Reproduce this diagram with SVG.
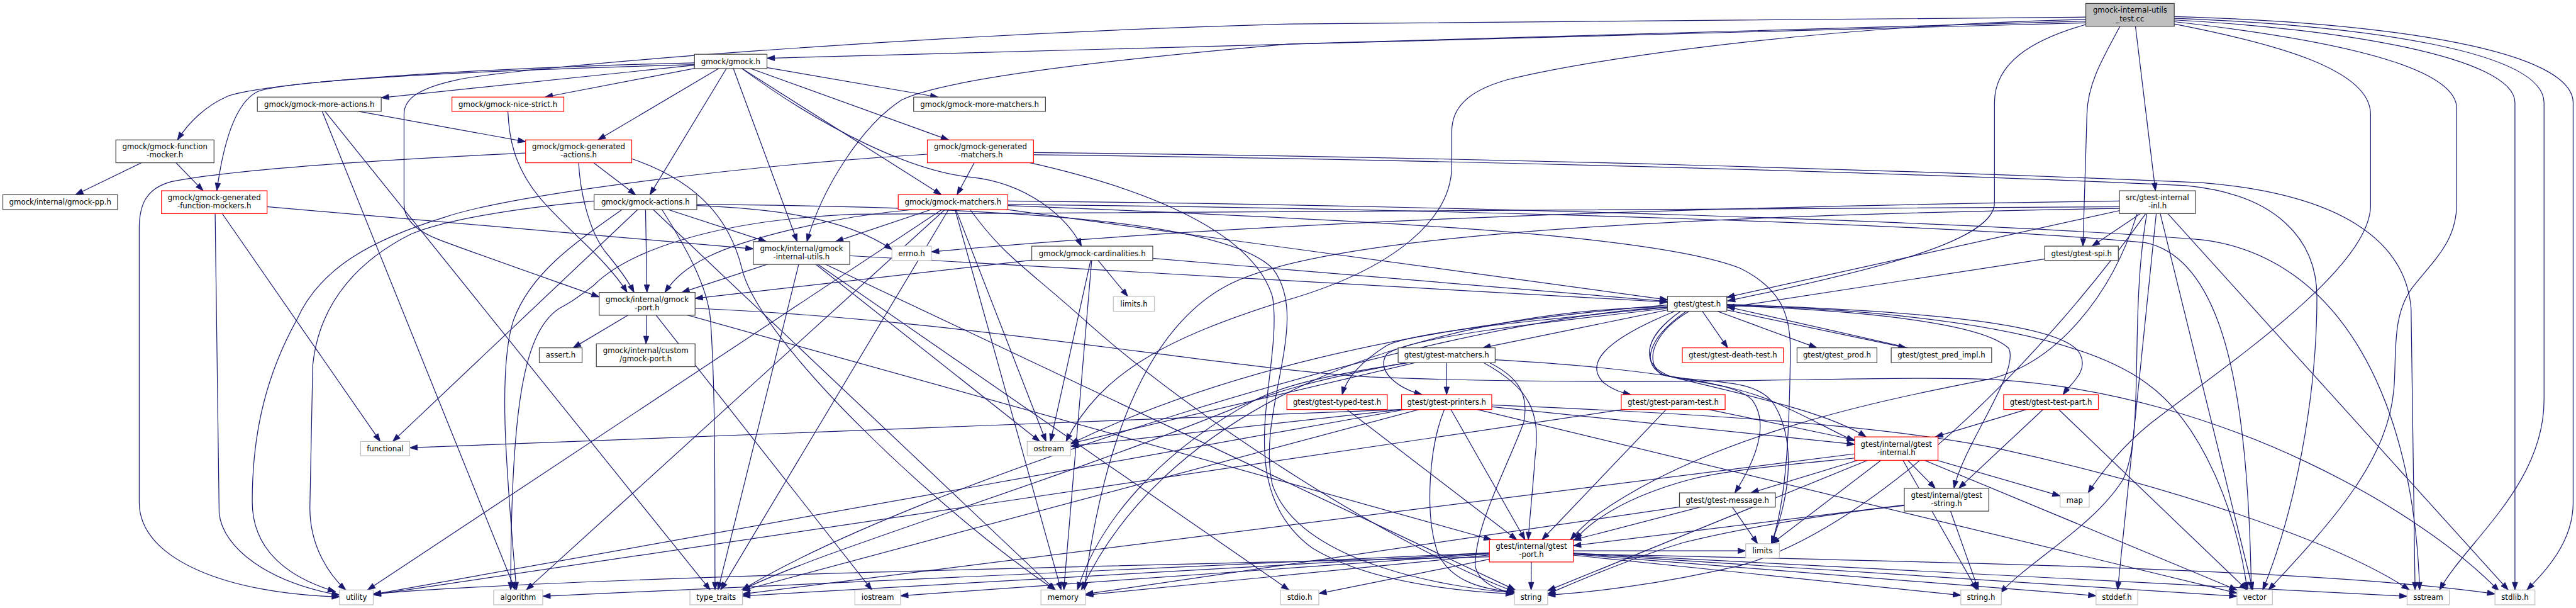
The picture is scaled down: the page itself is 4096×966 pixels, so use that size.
<svg xmlns="http://www.w3.org/2000/svg" width="4096" height="966" viewBox="0 0 4096 966">
<defs>
<style>
.e{fill:none;stroke:#191970;stroke-width:1.33;marker-end:url(#ah)}
rect{stroke-width:1.33}
rect.k{fill:#fff;stroke:#404040}
rect.r{fill:#fff;stroke:#ff0000}
rect.g{fill:#fff;stroke:#bfbfbf}
rect.root{fill:#bfbfbf;stroke:#404040}
text{font-family:'DejaVu Sans','Liberation Sans',sans-serif;font-size:13px;text-anchor:middle;fill:#000}
</style>
<marker id="ah" markerUnits="userSpaceOnUse" markerWidth="14" markerHeight="10" refX="13.3" refY="4.65" orient="auto" overflow="visible"><path d="M0,0 L13.3,4.65 L0,9.3 z" fill="#191970" stroke="#191970" stroke-width="1"/></marker>
</defs>
<rect width="4096" height="966" fill="#fff"/>
<g transform="scale(0.9074)">
<g id="connectors">
<path class="e" d="M1280.5,107.5 L668,171.2"/>
<path class="e" d="M1280.5,107.5 L955.1,170"/>
<path class="e" d="M1280.5,107.5 L1643.8,170"/>
<path class="e" d="M1280.5,107.5 L1047.8,245"/>
<path class="e" d="M1280.5,107.5 L1138.9,341"/>
<path class="e" d="M1280.5,107.5 L1397,423"/>
<path class="e" d="M1280.5,107.5 L1662.4,245"/>
<path class="e" d="M1280.5,107.5 L1649.5,341"/>
<path class="e" d="M1217,110 C800,120 470,145 400,168 C360,185 330,215 311,245"/>
<path class="e" d="M1217,113 C900,122 520,137 452,160 C410,180 390,260 380,334"/>
<path class="e" d="M1300,120 C1450,230 1600,300 1700,310 C1800,320 1870,380 1895,431"/>
<path class="e" d="M559.5,182.5 L921,248.1"/>
<path class="e" d="M559.5,182.5 L902.8,1033"/>
<path class="e" d="M559.5,182.5 L1244.5,1033"/>
<path class="e" d="M890,195 C892,240 900,290 944,344 C990,400 1060,450 1099,512"/>
<path class="e" d="M289,265 L356,334"/>
<path class="e" d="M289,265 L132.3,341"/>
<path class="e" d="M1107,278 C1230,320 1280,390 1300,470 C1330,600 1650,900 1849,1033"/>
<path class="e" d="M1014,265 L1113.9,341"/>
<path class="e" d="M1014,285 C1016,330 1030,400 1060,440 C1085,470 1100,490 1111,512"/>
<path class="e" d="M921,268 C700,278 420,295 300,318 C255,330 244,360 244,400 L244,880 C244,980 400,1040 595,1045"/>
<path class="e" d="M375.5,354 L666.3,773"/>
<path class="e" d="M377,374 L384,898 C390,960 470,1020 595,1042"/>
<path class="e" d="M375.5,354 L1320,435.7"/>
<path class="e" d="M1718,265 L1677,341"/>
<path class="e" d="M1811,267 C2600,275 3400,300 3860,320 C4100,340 4215,420 4225,540 L4232,1033"/>
<path class="e" d="M1805,285 C2050,340 2200,420 2230,520 C2250,650 2150,850 2300,960 C2400,1020 2550,1035 2652,1040"/>
<path class="e" d="M1811,271 C2600,280 3400,305 3830,325 C3990,340 4060,420 4060,520 C4060,700 4020,900 3965,1033"/>
<path class="e" d="M1625,270 C1300,290 900,340 780,380 C650,420 560,470 520,560 C470,650 442,750 442,878 C442,960 500,1010 588,1036"/>
<path class="e" d="M1670,354 L922.3,1033"/>
<path class="e" d="M1766,360 C2400,385 2900,410 3050,470 C3130,510 3140,560 3137,640 C3135,760 3130,880 3104,952"/>
<path class="e" d="M1670,354 L1859.4,1033"/>
<path class="e" d="M1670,354 L1833.1,773"/>
<path class="e" d="M1766,352 C2600,360 3500,390 3860,420 C4100,450 4230,700 4240,1033"/>
<path class="e" d="M1700,367 C1760,450 1800,470 1900,560 C2100,740 2450,960 2654,1036"/>
<path class="e" d="M1670,354 L1262.8,1033"/>
<path class="e" d="M1670,354 L644.1,1033"/>
<path class="e" d="M1766,358 C2600,366 3450,395 3760,425 C3900,455 3940,700 3945,1033"/>
<path class="e" d="M1670,354 L1464.2,423"/>
<path class="e" d="M1600,367 C1450,380 1300,420 1240,450 C1200,470 1180,490 1165,512"/>
<path class="e" d="M1670,354 L2922,524.9"/>
<path class="e" d="M1221,360 C1350,365 1480,380 1563,437"/>
<path class="e" d="M1090,367 C1000,430 930,480 900,560 C870,650 890,850 905,1033"/>
<path class="e" d="M1131,354 L688.2,773"/>
<path class="e" d="M1131,354 L1849.3,1033"/>
<path class="e" d="M1221,358 C1800,362 2150,390 2230,470 C2300,560 2200,720 2230,850 C2280,990 2550,1030 2654,1038"/>
<path class="e" d="M1160,367 C1200,430 1240,500 1245,560 C1255,700 1252,900 1253,1033"/>
<path class="e" d="M1041,352 C900,365 780,385 720,410 C640,450 560,520 548,640 L543,889 C543,960 580,1010 606,1033"/>
<path class="e" d="M1131,354 L1343,423"/>
<path class="e" d="M1131,354 L1133.7,512"/>
<path class="e" d="M1914,443.5 L1976.3,519"/>
<path class="e" d="M1914,443.5 L1864.1,1033"/>
<path class="e" d="M1914,443.5 L1840.8,773"/>
<path class="e" d="M1914,443.5 L1218,522.5"/>
<path class="e" d="M1914,443.5 L2922,527.7"/>
<path class="e" d="M1404.5,443 L2258.7,1033"/>
<path class="e" d="M1404.5,443 L1822.2,773"/>
<path class="e" d="M1404.5,443 L2655.4,1033"/>
<path class="e" d="M1404.5,443 L1258.2,1033"/>
<path class="e" d="M1404.5,443 L1194.8,512"/>
<path class="e" d="M1404.5,443 L2922,529"/>
<path class="e" d="M1134,532 L1004.4,609"/>
<path class="e" d="M1134,532 L1132,602"/>
<path class="e" d="M1218,540 C1700,560 2100,640 2400,660 C2900,680 3300,655 3500,665 C3900,690 4250,900 4379,1035"/>
<path class="e" d="M1134,532 L1527.8,1033"/>
<path class="e" d="M1134,532 L2613.6,945"/>
<path class="e" d="M2974,532 L3027.5,609"/>
<path class="e" d="M2974,532 L3183.6,609"/>
<path class="e" d="M2974,532 L3340.2,609"/>
<path class="e" d="M2974,532 L2598.4,609"/>
<path class="e" d="M2922,538 C2700,560 2480,580 2430,605 C2390,630 2360,660 2352,691"/>
<path class="e" d="M2922,540 C2700,565 2470,590 2430,620 C2410,650 2450,680 2492,691"/>
<path class="e" d="M2935,545 C2800,600 2780,640 2810,670 C2830,685 2845,688 2858,691"/>
<path class="e" d="M3026,533 C3400,545 3620,570 3645,620 C3660,650 3630,670 3615,691"/>
<path class="e" d="M2945,545 C2880,590 2870,640 2930,660 C3050,690 3200,720 3270,765"/>
<path class="e" d="M3026,535 C3300,545 3480,570 3520,610 C3540,650 3440,780 3424,855"/>
<path class="e" d="M2960,545 C2900,580 2880,630 2910,655 C2960,670 3040,670 3070,700 C3100,740 3080,800 3040,863"/>
<path class="e" d="M2955,545 C2890,590 2870,640 2920,658 C2990,672 3080,660 3110,710 C3145,770 3140,860 3104,952"/>
<path class="e" d="M2922,537 C2500,545 2050,700 1895,1033"/>
<path class="e" d="M2922,534 C2600,560 2200,620 1876,777"/>
<path class="e" d="M2922,538 C2500,560 1600,850 1300,1033"/>
<path class="e" d="M3026,534 C3400,545 3650,590 3760,670 C3860,740 3920,900 3938,1033"/>
<path class="e" d="M3402,622 L3026,537"/>
<path class="e" d="M2470,635 C2300,660 2240,680 2200,700 C2050,780 1930,900 1888,1033"/>
<path class="e" d="M2535,622 L1876,776.6"/>
<path class="e" d="M2610,635 C2660,660 2680,690 2670,740 C2640,820 2585,920 2585,990 C2590,1022 2630,1035 2654,1038"/>
<path class="e" d="M2465,635 C2300,665 2220,690 2150,720 C1800,860 1450,960 1300,1033"/>
<path class="e" d="M2535,622 L2535,691"/>
<path class="e" d="M2620,630 C2800,640 3000,660 3100,700 C3170,730 3220,760 3250,772"/>
<path class="e" d="M2600,635 C2680,680 2700,720 2690,800 C2685,870 2680,910 2678,945"/>
<path class="e" d="M3027,875.5 L3079.9,952"/>
<path class="e" d="M3027,875.5 L1902,1040.3"/>
<path class="e" d="M3027,875.5 L2757,945.5"/>
<path class="e" d="M2932,704 L654,1041.6"/>
<path class="e" d="M2932,704 L3250,770.3"/>
<path class="e" d="M2932,704 L2702.1,945"/>
<path class="e" d="M2456,717 L718,784"/>
<path class="e" d="M2456,717 L1876,781.3"/>
<path class="e" d="M2614,709 C3000,725 3300,745 3500,785 C3800,850 4100,950 4222,1033"/>
<path class="e" d="M2531,717 C2505,780 2495,900 2520,970 C2545,1020 2600,1032 2654,1037"/>
<path class="e" d="M2535,704 L1301,1033.7"/>
<path class="e" d="M2535,704 L654,1040.7"/>
<path class="e" d="M2535,704 L3920,1038.5"/>
<path class="e" d="M2535,704 L3250,778"/>
<path class="e" d="M2535,704 L2672.4,945"/>
<path class="e" d="M3594,704 L3937.4,1033"/>
<path class="e" d="M3594,704 L3391.2,765"/>
<path class="e" d="M3594,704 L3432.4,855"/>
<path class="e" d="M2343,704 L2658,945"/>
<path class="e" d="M3250,802 C3150,812 3030,822 2960,840 C2850,870 2790,910 2760,945"/>
<path class="e" d="M3323,785.5 L3464.1,1033"/>
<path class="e" d="M3323,785.5 L3104.9,952"/>
<path class="e" d="M3323,785.5 L3610,868.2"/>
<path class="e" d="M3323,785.5 L2712,1034.2"/>
<path class="e" d="M3323,785.5 L1301,1040.2"/>
<path class="e" d="M3323,785.5 L3920,1033.1"/>
<path class="e" d="M3323,785.5 L3068.1,863"/>
<path class="e" d="M3323,785.5 L3391.3,855"/>
<path class="e" d="M3411,875 L3466.9,1033"/>
<path class="e" d="M3337,885 C3200,900 3050,925 2950,950 C2850,980 2760,1020 2712,1040"/>
<path class="e" d="M3411,875 L2757,955.5"/>
<path class="e" d="M2610,975 C2000,990 1000,1010 654,1040"/>
<path class="e" d="M2683.5,964.5 L951,1044"/>
<path class="e" d="M2683.5,964.5 L1301,1043.4"/>
<path class="e" d="M2683.5,964.5 L1578,1043.2"/>
<path class="e" d="M2683.5,964.5 L1902,1042.1"/>
<path class="e" d="M2683.5,964.5 L2311,1039.3"/>
<path class="e" d="M2683.5,964.5 L2683,1033"/>
<path class="e" d="M2683.5,964.5 L3436,1042.3"/>
<path class="e" d="M2683.5,964.5 L3673,1043.1"/>
<path class="e" d="M2683.5,964.5 L3920,1044"/>
<path class="e" d="M2683.5,964.5 L4218,1044.1"/>
<path class="e" d="M2757,970 C3500,985 4100,1000 4372,1040"/>
<path class="e" d="M2683.5,964.5 L3059,964.5"/>
<path class="e" d="M3714,352 Q2400,370 1632,441"/>
<path class="e" d="M3780.5,354 L3710.8,1033"/>
<path class="e" d="M3780.5,354 L4395.2,1033"/>
<path class="e" d="M3762,374 C3730,560 3760,760 3720,840 C3670,920 3560,980 3505,1038"/>
<path class="e" d="M3714,362 C2500,365 1700,368 1500,375 C1250,385 1100,440 1040,500 C1000,530 990,535 980,540 C920,580 895,700 895,1033"/>
<path class="e" d="M3714,365 C2800,380 2300,420 2150,500 C2000,580 1930,800 1900,1033"/>
<path class="e" d="M3760,374 C3600,600 3300,920 3050,990 C2900,1025 2780,1038 2712,1042"/>
<path class="e" d="M3780.5,354 L3947.8,1033"/>
<path class="e" d="M3745,374 C3700,520 3600,640 3480,665 C3300,700 3000,760 2800,900 C2780,915 2765,930 2752,945"/>
<path class="e" d="M3780.5,354 L3026,520.5"/>
<path class="e" d="M3780.5,354 L3666.1,431"/>
<path class="e" d="M3647.5,443.5 L3026,538.8"/>
<path class="e" d="M3655,43 C3560,70 3495,110 3495,180 L3495,355 C3495,420 3300,470 3027,527"/>
<path class="e" d="M3715,46 C3680,110 3658,150 3657,200 L3650,431"/>
<path class="e" d="M3742,46 L3777,334"/>
<path class="e" d="M3655,40 L1344,102"/>
<path class="e" d="M3655,37 L2260,77 C1900,108 1650,140 1580,175 C1510,220 1440,330 1414,423"/>
<path class="e" d="M3655,30 L2260,42 C1600,60 900,118 800,140 C730,155 708,175 708,200 L708,358 C708,385 730,405 770,420 C850,450 980,495 1050,520"/>
<path class="e" d="M3655,34 C3200,45 2800,100 2640,140 C2570,160 2544,190 2544,230 L2544,290 C2544,380 2450,470 2250,527 C2050,590 1930,650 1868,773"/>
<path class="e" d="M3810,42 C3980,75 4154,120 4154,200 L4154,360 C4154,470 3900,640 3770,740 C3720,780 3680,830 3659,863"/>
<path class="e" d="M3810,38 C4050,65 4305,110 4305,190 L4305,355 C4305,420 4270,450 4230,500 C4190,550 4200,620 4195,680 C4185,800 4100,900 3975,1033"/>
<path class="e" d="M3810,35 C4100,50 4407,100 4407,180 L4407,1033"/>
<path class="e" d="M3810,32 C4150,45 4458,90 4458,180 L4458,700 C4458,850 4320,950 4275,1033"/>
<path class="e" d="M3810,29 C4200,40 4509,90 4509,180 L4509,880 C4509,950 4460,1000 4428,1033"/>
</g>
<g id="nodes">
<g id="n-test"><rect class="root" x="3655" y="6" width="155" height="40"/><text x="3732.5" y="22.5">gmock-internal-utils</text><text x="3732.5" y="37">_test.cc</text></g>
<g id="n-gmock"><rect class="k" x="1217" y="95" width="127" height="25"/><text x="1280.5" y="112">gmock/gmock.h</text></g>
<g id="n-more-actions"><rect class="k" x="451" y="170" width="217" height="25"/><text x="559.5" y="187">gmock/gmock-more-actions.h</text></g>
<g id="n-nice-strict"><rect class="r" x="792" y="170" width="196" height="25"/><text x="890" y="187">gmock/gmock-nice-strict.h</text></g>
<g id="n-more-matchers"><rect class="k" x="1601" y="170" width="231" height="25"/><text x="1716.5" y="187">gmock/gmock-more-matchers.h</text></g>
<g id="n-function-mocker"><rect class="k" x="203" y="245" width="172" height="40"/><text x="289" y="261.5">gmock/gmock-function</text><text x="289" y="276">-mocker.h</text></g>
<g id="n-gen-actions"><rect class="r" x="921" y="245" width="186" height="40"/><text x="1014" y="261.5">gmock/gmock-generated</text><text x="1014" y="276">-actions.h</text></g>
<g id="n-gen-matchers"><rect class="r" x="1625" y="245" width="186" height="40"/><text x="1718" y="261.5">gmock/gmock-generated</text><text x="1718" y="276">-matchers.h</text></g>
<g id="n-gmock-pp"><rect class="k" x="5" y="341" width="201" height="26"/><text x="105.5" y="358.5">gmock/internal/gmock-pp.h</text></g>
<g id="n-gen-fmockers"><rect class="r" x="283" y="334" width="185" height="40"/><text x="375.5" y="350.5">gmock/gmock-generated</text><text x="375.5" y="365">-function-mockers.h</text></g>
<g id="n-actions"><rect class="k" x="1041" y="341" width="180" height="26"/><text x="1131" y="358.5">gmock/gmock-actions.h</text></g>
<g id="n-matchers"><rect class="r" x="1574" y="341" width="192" height="26"/><text x="1670" y="358.5">gmock/gmock-matchers.h</text></g>
<g id="n-inl"><rect class="k" x="3714" y="334" width="133" height="40"/><text x="3780.5" y="350.5">src/gtest-internal</text><text x="3780.5" y="365">-inl.h</text></g>
<g id="n-utils"><rect class="k" x="1320" y="423" width="169" height="40"/><text x="1404.5" y="439.5">gmock/internal/gmock</text><text x="1404.5" y="454">-internal-utils.h</text></g>
<g id="n-errno"><rect class="g" x="1563" y="431" width="69" height="25"/><text x="1597.5" y="448">errno.h</text></g>
<g id="n-cardinalities"><rect class="k" x="1808" y="431" width="212" height="25"/><text x="1914" y="448">gmock/gmock-cardinalities.h</text></g>
<g id="n-spi"><rect class="k" x="3583" y="431" width="129" height="25"/><text x="3647.5" y="448">gtest/gtest-spi.h</text></g>
<g id="n-gmock-port"><rect class="k" x="1050" y="512" width="168" height="40"/><text x="1134" y="528.5">gmock/internal/gmock</text><text x="1134" y="543">-port.h</text></g>
<g id="n-limits-h"><rect class="g" x="1951" y="519" width="72" height="26"/><text x="1987" y="536.5">limits.h</text></g>
<g id="n-gtest"><rect class="k" x="2922" y="519" width="104" height="26"/><text x="2974" y="536.5">gtest/gtest.h</text></g>
<g id="n-assert"><rect class="k" x="945" y="609" width="75" height="26"/><text x="982.5" y="626.5">assert.h</text></g>
<g id="n-custom"><rect class="k" x="1045" y="602" width="173" height="40"/><text x="1131.5" y="618.5">gmock/internal/custom</text><text x="1131.5" y="633">/gmock-port.h</text></g>
<g id="n-gtest-matchers"><rect class="k" x="2450" y="609" width="170" height="26"/><text x="2535" y="626.5">gtest/gtest-matchers.h</text></g>
<g id="n-death"><rect class="r" x="2948" y="609" width="177" height="26"/><text x="3036.5" y="626.5">gtest/gtest-death-test.h</text></g>
<g id="n-prod"><rect class="k" x="3149" y="609" width="140" height="26"/><text x="3219" y="626.5">gtest/gtest_prod.h</text></g>
<g id="n-pred"><rect class="k" x="3314" y="609" width="176" height="26"/><text x="3402" y="626.5">gtest/gtest_pred_impl.h</text></g>
<g id="n-typed"><rect class="r" x="2255" y="691" width="176" height="26"/><text x="2343" y="708.5">gtest/gtest-typed-test.h</text></g>
<g id="n-printers"><rect class="r" x="2456" y="691" width="158" height="26"/><text x="2535" y="708.5">gtest/gtest-printers.h</text></g>
<g id="n-param"><rect class="r" x="2841" y="691" width="182" height="26"/><text x="2932" y="708.5">gtest/gtest-param-test.h</text></g>
<g id="n-testpart"><rect class="r" x="3511" y="691" width="166" height="26"/><text x="3594" y="708.5">gtest/gtest-test-part.h</text></g>
<g id="n-functional"><rect class="g" x="632" y="773" width="86" height="25"/><text x="675" y="790">functional</text></g>
<g id="n-ostream"><rect class="g" x="1800" y="773" width="76" height="25"/><text x="1838" y="790">ostream</text></g>
<g id="n-internal"><rect class="r" x="3250" y="765" width="146" height="41"/><text x="3323" y="782">gtest/internal/gtest</text><text x="3323" y="796.5">-internal.h</text></g>
<g id="n-message"><rect class="k" x="2943" y="863" width="168" height="25"/><text x="3027" y="880">gtest/gtest-message.h</text></g>
<g id="n-gstring"><rect class="k" x="3337" y="855" width="148" height="40"/><text x="3411" y="871.5">gtest/internal/gtest</text><text x="3411" y="886">-string.h</text></g>
<g id="n-map"><rect class="g" x="3610" y="863" width="51" height="25"/><text x="3635.5" y="880">map</text></g>
<g id="n-gport"><rect class="r" x="2610" y="945" width="147" height="39"/><text x="2683.5" y="961">gtest/internal/gtest</text><text x="2683.5" y="975.5">-port.h</text></g>
<g id="n-limits"><rect class="g" x="3059" y="952" width="59" height="25"/><text x="3088.5" y="969">limits</text></g>
<g id="n-utility"><rect class="g" x="595" y="1033" width="59" height="26"/><text x="624.5" y="1050.5">utility</text></g>
<g id="n-algorithm"><rect class="g" x="865" y="1033" width="86" height="26"/><text x="908" y="1050.5">algorithm</text></g>
<g id="n-type-traits"><rect class="g" x="1209" y="1033" width="92" height="26"/><text x="1255" y="1050.5">type_traits</text></g>
<g id="n-iostream"><rect class="g" x="1498" y="1033" width="80" height="26"/><text x="1538" y="1050.5">iostream</text></g>
<g id="n-memory"><rect class="g" x="1824" y="1033" width="78" height="26"/><text x="1863" y="1050.5">memory</text></g>
<g id="n-stdio"><rect class="g" x="2244" y="1033" width="67" height="26"/><text x="2277.5" y="1050.5">stdio.h</text></g>
<g id="n-string"><rect class="g" x="2654" y="1033" width="58" height="26"/><text x="2683" y="1050.5">string</text></g>
<g id="n-string-h"><rect class="g" x="3436" y="1033" width="71" height="26"/><text x="3471.5" y="1050.5">string.h</text></g>
<g id="n-stddef"><rect class="g" x="3673" y="1033" width="73" height="26"/><text x="3709.5" y="1050.5">stddef.h</text></g>
<g id="n-vector"><rect class="g" x="3920" y="1033" width="62" height="26"/><text x="3951" y="1050.5">vector</text></g>
<g id="n-sstream"><rect class="g" x="4218" y="1033" width="74" height="26"/><text x="4255" y="1050.5">sstream</text></g>
<g id="n-stdlib"><rect class="g" x="4372" y="1033" width="70" height="26"/><text x="4407" y="1050.5">stdlib.h</text></g>
</g>
</g>
</svg>
